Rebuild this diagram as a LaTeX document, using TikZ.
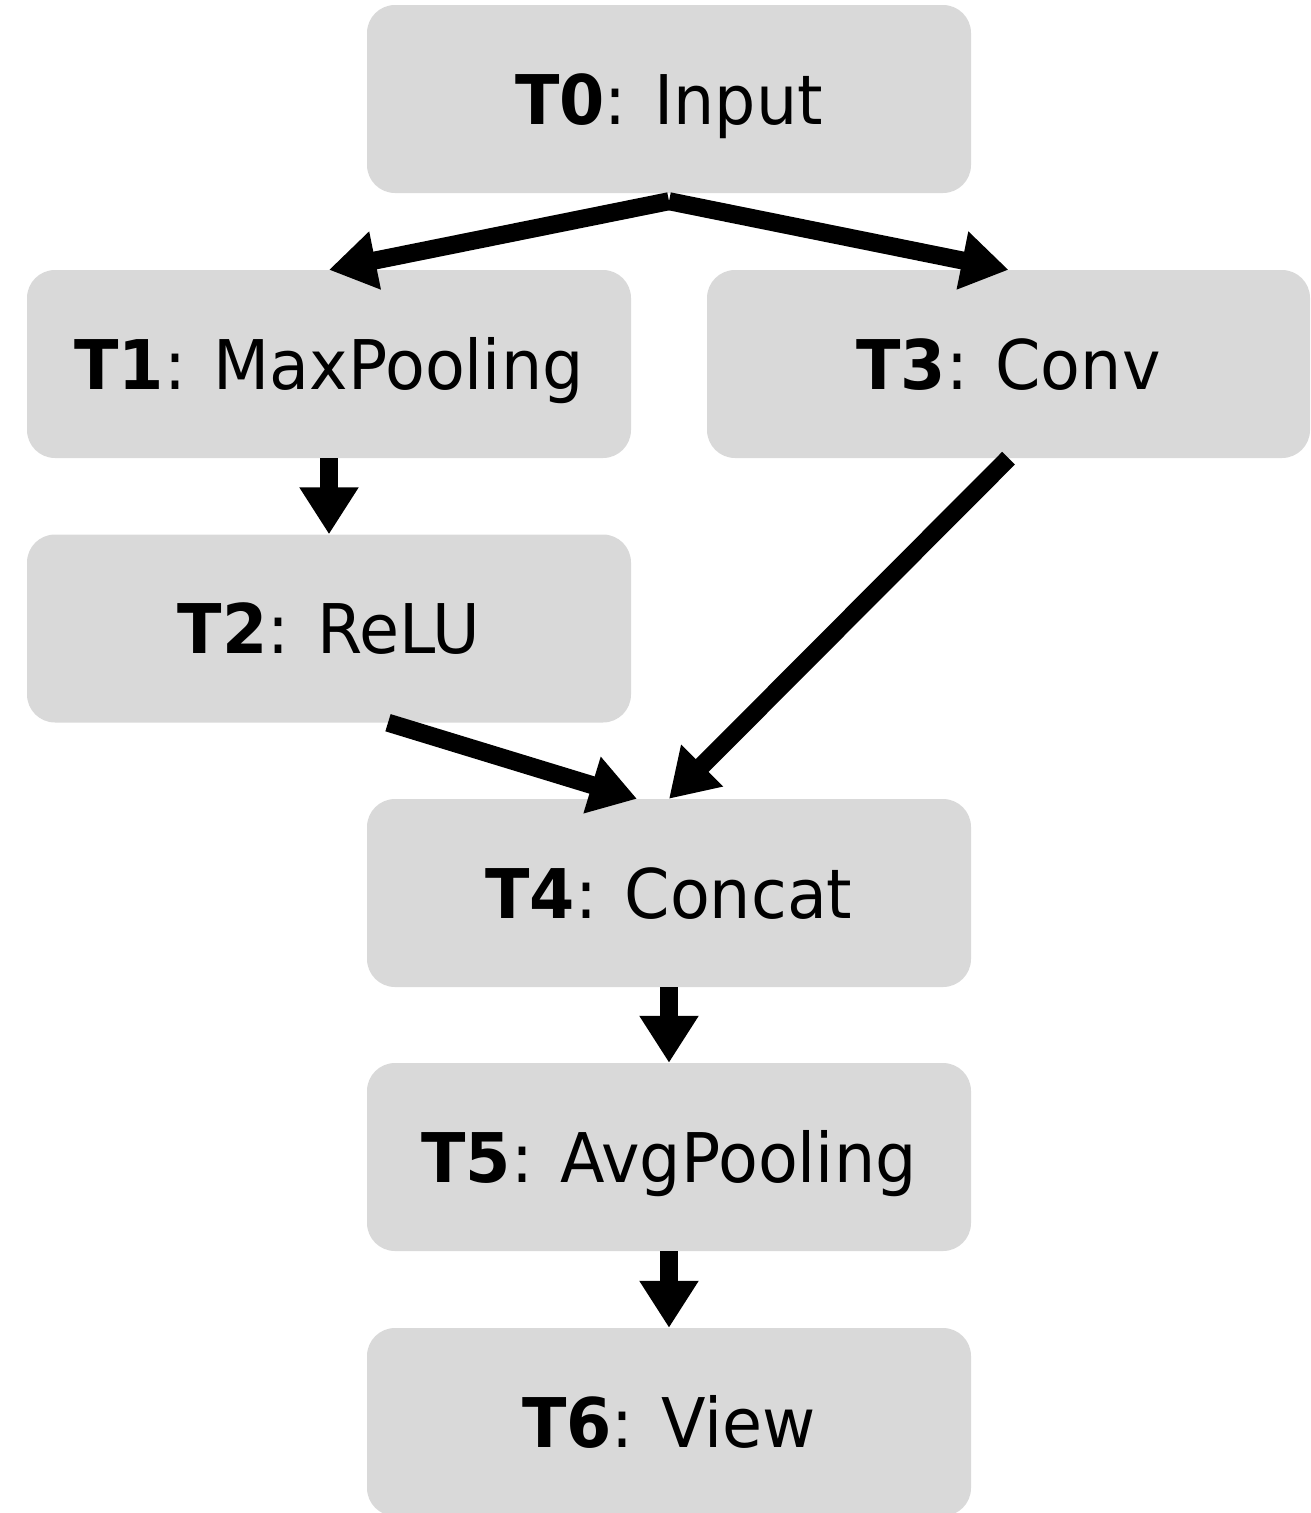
\documentclass[tikz,border=0pt]{standalone}
\usepackage{fontspec}
\setmainfont{DejaVu Sans}[FakeStretch=0.95]
\usetikzlibrary{arrows.meta,calc}
\definecolor{boxgray}{HTML}{D9D9D9}
\tikzset{
  opbox/.style={fill=boxgray, draw=none, rounded corners=28pt, minimum width=604pt, minimum height=188pt,
    inner sep=0pt, text height=50pt, text depth=0pt, font=\fontsize{68.5}{80}\selectfont},
  flow/.style={line width=18pt, -{Triangle[length=47pt,width=56pt]}, shorten >=0pt}
}
\begin{document}
\begin{tikzpicture}[x=1pt,y=-1pt]
\useasboundingbox (0,0) rectangle (1310,1513);
\node[opbox] (t0) at (669,99) {\textbf{T0}: Input};
\node[opbox] (t1) at (329,364) {\textbf{T1}: MaxPooling};
\node[opbox, minimum width=603pt] (t3) at (1008.5,364) {\textbf{T3}: Conv};
\node[opbox] (t2) at (329,628.5) {\textbf{T2}: ReLU};
\node[opbox] (t4) at (669,893) {\textbf{T4}: Concat};
\node[opbox] (t5) at (669,1157) {\textbf{T5}: AvgPooling};
\node[opbox] (t6) at (669,1422) {\textbf{T6}: View};
\coordinate (t0out) at ($(t0.south)+(0,8)$);
\draw[flow] (t0out) -- (t1.north);
\draw[flow] (t0out) -- (t3.north);
\draw[flow] (t1.south) -- (t2.north);
\draw[flow] ($(t2.south)+(59,0)$) -- ($(t4.north)+(-32,0)$);
\draw[flow] (t3.south) -- (t4.north);
\draw[flow] (t4.south) -- (t5.north);
\draw[flow] (t5.south) -- (t6.north);
\end{tikzpicture}
\end{document}
